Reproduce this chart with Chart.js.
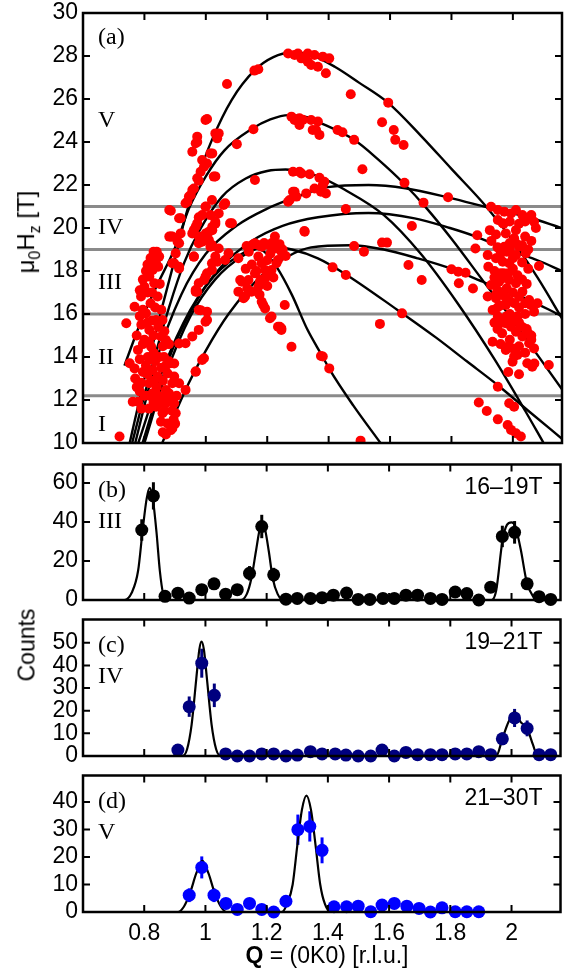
<!DOCTYPE html>
<html>
<head>
<meta charset="utf-8">
<script src="https://cdn.jsdelivr.net/npm/chart.js@4.4.0/dist/chart.umd.min.js"></script>
<style>
  body { margin: 0; background: #fff; width: 567px; height: 971px; position: relative; overflow: hidden;
         font-family: 'Liberation Sans', Arial, sans-serif; }
  .panel { position: absolute; left: 0; }
  .lbl { position: absolute; font-size: 23px; color: #000; white-space: nowrap; }
  .rot { transform: translate(-50%, -50%) rotate(-90deg); }
  .lbl sub { font-size: 16px; }
</style>
</head>
<body>
<div class="panel" style="top:0"><canvas id="chartA" width="567" height="458"></canvas></div>
<div class="panel" style="top:458px"><canvas id="chartB" width="567" height="155"></canvas></div>
<div class="panel" style="top:613px"><canvas id="chartC" width="567" height="156"></canvas></div>
<div class="panel" style="top:769px"><canvas id="chartD" width="567" height="202"></canvas></div>
<div class="lbl rot" style="left:28px; top:232px; font-size:24px">&mu;<sub>0</sub>H<sub>z</sub> [T]</div>
<div class="lbl rot" style="left:27px; top:645px">Counts</div>
<div class="lbl" style="left:327px; top:955px; transform: translate(-50%, -50%)"><b>Q</b> = (0K0) [r.l.u.]</div>
<script>
// axis ticks
const qTicks = [0.8, 1, 1.2, 1.4, 1.6, 1.8, 2];
const fieldTicks = [10, 12, 14, 16, 18, 20, 22, 24, 26, 28, 30];
const countTicksB = [0, 20, 40, 60];
const countTicksC = [0, 10, 20, 30, 40, 50];
const countTicksD = [0, 10, 20, 30, 40];
const phaseBounds = [21, 19, 16, 12.2];

// (a) model curves, [Q, field]
const curveA = [[0.752,10],[0.80,13.0],[0.85,15.9],[0.90,18.6],[0.935,20.6],[0.975,22.4],[1.02,24.1],[1.084,25.95],[1.16,27.35],[1.22,27.95],[1.28,28.15],[1.34,28.05],[1.42,27.5],[1.50,26.75],[1.594,25.82],[1.70,24.3],[1.80,22.75],[1.913,21.0],[2.0,19.4],[2.08,17.7],[2.16,15.8]];
const curveB = [[0.735,13.6],[0.79,15.7],[0.84,17.3],[0.90,19.1],[0.945,20.9],[1.0,22.4],[1.06,23.6],[1.149,24.6],[1.21,25.05],[1.27,25.25],[1.33,25.15],[1.365,24.94],[1.483,24.1],[1.56,23.2],[1.644,22.08],[1.72,20.9],[1.80,19.5],[1.90,17.6],[2.0,15.7],[2.08,14.1],[2.16,12.5]];
const curveC = [[0.76,10],[0.82,13.3],[0.88,16.3],[0.93,18.4],[0.98,19.9],[1.053,21.46],[1.13,22.3],[1.20,22.65],[1.26,22.72],[1.32,22.6],[1.365,22.41],[1.45,21.8],[1.58,20.6],[1.70,18.8],[1.82,16.5],[1.94,13.9],[2.04,11.5],[2.10,10.0]];
const curveD = [[0.77,10],[0.84,13.9],[0.92,16.9],[1.0,18.8],[1.1,20.1],[1.2,20.9],[1.278,21.35],[1.397,21.9],[1.53,22.0],[1.65,21.85],[1.795,21.4],[1.92,20.95],[2.05,20.5],[2.16,20.0]];
const curveE = [[0.78,10],[0.86,13.4],[0.95,16.2],[1.05,18.2],[1.15,19.4],[1.25,20.1],[1.365,20.5],[1.53,20.7],[1.68,20.45],[1.795,20.0],[1.88,19.6],[2.0,18.9],[2.08,18.5],[2.16,18.0]];
const curveF = [[0.858,10],[0.945,12.8],[1.0,14.3],[1.074,16.0],[1.19,17.9],[1.27,18.7],[1.343,19.1],[1.472,19.2],[1.58,19.0],[1.687,18.6],[1.80,18.1],[1.902,17.5],[2.03,16.8],[2.16,15.9]];
const curveG = [[0.794,10],[0.85,12.6],[0.891,14.33],[0.95,16.1],[0.999,17.27],[1.05,18.1],[1.106,18.7],[1.16,19.05],[1.19,18.9],[1.23,18.2],[1.28,16.9],[1.33,15.3],[1.381,14.0],[1.402,13.45],[1.48,11.75],[1.569,10]];
const curveI = [[0.80,10],[0.87,13.2],[0.95,15.9],[1.03,17.6],[1.12,18.7],[1.2,19.15],[1.28,19.0],[1.365,18.59],[1.45,17.9],[1.623,16.2],[1.75,14.9],[1.85,13.8],[1.95,12.7],[2.05,11.5],[2.16,10.2]];

// (a) measured peak positions, [Q, field]
const peaksLow = [[0.719,10.3],[0.741,15.57],[0.768,16.34],[0.752,13.71],[0.768,13.47],[0.779,14.33],[0.762,11.92],[0.779,11.92],[0.789,16.81],[0.8,17.27],[0.816,17.74],[0.827,18.05],[0.838,18.36],[0.848,18.67],[0.805,16.03],[0.816,15.26],[0.822,14.48],[0.811,14.0],[0.827,13.4],[0.816,12.78],[0.827,12.31],[0.843,13.09],[0.848,14.0],[0.854,14.95],[0.838,15.72],[0.859,15.72],[0.87,14.79],[0.843,16.81],[0.832,17.43],[0.848,11.85],[0.838,11.69],[0.87,12.46],[0.875,13.24],[0.875,14.63],[0.864,14.0],
  [0.854,10.99],[0.859,11.38],[0.87,11.85],[0.88,12.31],[0.891,12.78],[0.897,13.09],[0.886,13.71],[0.875,10.91],[0.891,10.68],[0.902,11.38],[0.897,11.85],[0.913,12.78],[0.886,10.6],
  [0.79,15.5],[0.80,14.8],[0.81,13.2],[0.82,16.5],[0.83,15.0],[0.835,13.8],[0.84,12.6],[0.80,12.2],[0.815,11.6],[0.825,17.0],[0.845,15.4],[0.855,13.5],[0.86,12.9],[0.865,11.5],[0.88,13.8],[0.885,12.0],[0.895,11.1],[0.79,12.8],[0.785,13.9],[0.81,17.0],[0.795,16.2],[0.775,15.0],[0.805,18.0],[0.82,18.6],
  [0.785,17.1],[0.795,17.6],[0.81,18.3],[0.83,18.9],[0.845,18.2],[0.835,16.3],[0.825,15.7],[0.815,14.7],[0.805,13.6],[0.795,13.3],[0.785,12.4],[0.775,12.6],[0.83,12.9],[0.845,12.2],[0.855,12.0],[0.86,14.5],[0.865,15.2],[0.855,16.2],[0.85,17.4],[0.84,18.9],[0.82,13.9],[0.83,14.2],[0.81,15.6],[0.795,14.6],[0.785,15.9],[0.77,13.0],[0.83,11.9],[0.815,12.2],[0.79,11.6],[0.87,13.6],[0.88,14.6],[0.865,12.2],[0.875,12.0],[0.89,11.5],[0.905,12.2],[0.86,10.5],[0.87,10.4],[0.9,10.9],
  [0.934,12.47],[0.967,13.32],[0.988,13.86],[0.956,14.95],[0.977,15.26],[0.977,16.19],[1.004,16.11],[1.004,15.72],[0.967,17.04],[0.977,17.43],[0.999,17.74],[1.02,18.05],[1.037,18.43],[0.913,14.63],
  [0.934,14.64],[0.967,13.32],[0.994,13.94],[0.897,13.7],[0.983,16.18],[0.999,15.64],[0.972,17.04],[0.994,17.58],[1.004,17.89]];
const peaksMid = [[0.886,20.8],[0.918,20.45],[0.918,19.75],[0.886,19.6],[1.069,26.7],[1.004,25.07],[0.972,24.25],[0.972,24.0],[0.956,23.55],[1.042,24.4],[1.037,24.17],[1.021,23.47],[0.988,23.16],[1.004,23.0],[1.031,22.4],[0.977,22.2],[0.956,21.77],[0.934,21.15],[0.945,21.46],[1.101,23.9],[1.155,24.59],[1.158,27.32],[1.171,27.38],[1.268,28.12],[1.289,28.05],[1.279,25.18],[1.289,25.02],[1.16,22.23],[1.284,22.62],[1.273,21.3],[1.289,21.69],[1.225,19.6],[1.063,21.15],[1.042,20.68],[1.031,20.2],[1.021,19.9],[1.0,19.75],[1.01,19.44],[1.085,20.22],[1.02,21.3],[1.0,21.0],[0.977,20.5],[0.967,20.06],[0.956,19.75],
  [0.999,25.02],[1.031,24.4],[0.967,23.94],[1.015,23.47],[0.994,22.85],[0.983,22.62],[0.972,22.31],[1.026,22.39],[0.961,21.84],[0.951,21.53],[0.94,21.22],[0.999,20.99],[1.058,21.07],[0.988,20.6],[0.972,20.22],[0.961,19.91],[0.977,19.6],[1.015,20.6],[1.031,20.29],[1.021,20.06],[1.01,19.83],[0.999,19.6],[0.988,19.36],[1.015,19.13],[1.042,19.05],[1.079,20.22],[1.031,18.67],[1.063,18.51],[1.02,18.36],
  [0.881,20.84],[0.913,20.45],[0.908,19.36],[0.902,18.82],[0.897,18.36],[0.913,18.2],[0.961,18.67],[0.967,17.12],[0.881,19.6],
  [0.891,19.6],[0.913,19.29],[0.891,18.36],[0.913,18.12],[0.961,18.67],[0.977,19.29],[0.999,19.44],[1.02,19.21],[1.074,18.82],[1.106,18.59],
  [1.133,19.16],[1.16,19.29],[1.182,19.13],[1.203,19.21],[1.225,19.05],[1.246,18.9],[1.171,18.67],[1.182,18.36],[1.193,18.05],[1.16,17.89],[1.139,17.58],[1.112,17.58],[1.123,16.73],[1.149,17.04],[1.171,17.27],[1.193,17.66],[1.214,18.05],[1.23,18.36],[1.187,16.42],[1.193,16.26],[1.214,15.88],[1.241,15.41],[1.257,16.42],[1.279,14.48],
  [1.117,17.5],[1.106,17.04],[1.128,16.81],[1.176,17.5],[1.198,17.97],[1.235,18.51],[1.182,16.57],[1.209,15.8],[1.235,15.41],[1.246,15.26],[1.381,14.02],[1.321,19.86],[1.171,19.21],
  [1.14,18.9],[1.15,18.3],[1.165,18.0],[1.18,17.6],[1.2,18.5],[1.21,18.8],[1.215,19.3],[1.24,19.25],[1.19,19.3],[1.155,19.25],[1.2,17.3],[1.22,17.7],[1.13,18.1],[1.25,19.0],[1.26,18.7],[1.175,16.9],[1.135,17.2]];
const peaksHigh = [[1.30,28.12],[1.332,28.12],[1.354,28.05],[1.311,27.89],[1.332,27.74],[1.343,27.58],[1.365,27.5],[1.381,27.97],[1.402,27.89],[1.391,27.2],[1.472,26.22],[1.594,25.83],[1.574,24.92],[1.612,24.56],[1.617,24.1],[1.644,23.86],[1.51,22.73],
  [1.305,25.1],[1.316,25.03],[1.343,25.02],[1.365,24.95],[1.305,24.79],[1.348,24.56],[1.37,24.33],[1.359,24.56],[1.429,24.56],[1.445,24.45],[1.483,24.1],[1.647,22.1],[1.709,21.18],[1.789,21.43],[1.671,20.09],
  [1.305,22.62],[1.338,22.5],[1.37,22.34],[1.386,22.15],[1.311,22.54],[1.284,21.69],[1.327,21.61],[1.375,21.69],[1.391,21.61],[1.268,21.22],[1.295,21.46],[1.354,21.84],[1.381,22.0],[1.456,20.88]];
const peaksRight = [[1.322,19.83],[1.483,19.16],[1.515,18.9],[1.574,19.32],[1.59,19.32],[1.413,18.17],[1.456,17.81],[1.66,18.28],[1.703,17.58],[1.246,15.33],[1.375,14.05],[1.402,13.47],[1.567,15.54],[1.639,16.03],[1.504,10.11],
  [1.929,20.99],[1.951,20.84],[1.972,20.76],[1.994,20.68],[2.01,20.84],[2.031,20.6],[2.053,20.45],[2.069,20.29],[1.951,20.37],[1.967,20.22],[1.977,19.75],[2.004,19.52],[2.01,19.29],[1.977,19.13],[1.884,19.66],[1.878,19.05],
  [1.972,19.13],[2.02,19.13],[2.042,18.82],[2.01,18.74],[1.918,18.74],[1.945,18.59],[1.967,18.43],[1.988,18.36],[2.085,18.23],[1.8,18.08],[1.822,17.97],[1.846,17.92],[1.824,17.43],[1.87,17.19],[1.929,17.35],[1.967,17.66],[1.988,17.58],[2.01,17.43],[2.031,17.04],[2.053,16.65],[2.058,16.42],[2.069,16.11],[1.918,16.81],[1.945,16.73],[1.977,16.42],[1.934,16.19],[1.951,15.88],[1.977,15.57],[1.994,15.41],[2.01,15.18],[2.031,14.95],[2.053,14.64],[2.069,14.4],[1.934,14.71],[1.977,14.33],[2.004,14.02],[1.999,13.78],[2.047,13.71],[2.063,13.55],[2.117,13.63],
  [1.951,12.62],[1.889,11.88],[1.915,11.49],[1.951,11.1],[1.983,10.84],[1.988,11.85],[2.004,11.69],[1.994,10.61],[2.01,10.45],[2.026,10.3],
  [1.94,18.0],[1.96,17.9],[1.98,17.2],[2.0,17.0],[1.95,17.1],[2.02,16.3],[2.04,16.0],[1.96,16.4],[1.99,16.0],[2.02,15.6],[2.045,15.3],[1.94,15.6],[1.965,15.1],[1.99,14.8],[2.02,14.5],[2.06,15.0],[1.92,18.2],[1.98,18.9],[2.0,18.6],[2.03,18.4],[2.05,18.1],[1.93,19.4],[1.99,19.0],[2.04,19.6],[2.06,19.4],
  [1.94,17.7],[1.955,17.5],[1.97,17.9],[1.985,17.9],[2.0,18.1],[2.015,17.8],[2.03,17.6],[2.045,17.4],[1.945,16.9],[1.96,16.9],[1.975,16.8],[1.99,16.6],[2.005,16.5],[2.02,16.8],[2.04,16.5],[1.95,16.3],[1.965,15.6],[1.98,15.9],[2.0,15.7],[2.015,15.9],[2.03,15.4],[2.05,15.1],[2.06,14.8],[1.95,15.3],[1.96,14.6],[1.985,14.5],[2.0,14.4],[2.015,14.1],[2.04,14.2],[1.96,18.8],[1.95,19.1],[1.99,19.3],[2.01,19.9],[2.03,19.2],[2.05,19.0],[1.925,19.9],[1.945,19.7],[1.97,20.2],[1.99,20.3],[2.02,20.2],[2.04,20.3],[2.06,20.6],[2.075,20.0],[1.985,13.3],[2.02,13.2],[2.07,13.7],[2.08,16.5]];

// (b) 16-19T scan
const qB = [0.792,0.83,0.868,0.91,0.947,0.988,1.028,1.066,1.104,1.144,1.184,1.223,1.263,1.30,1.343,1.381,1.418,1.461,1.499,1.537,1.58,1.617,1.655,1.693,1.735,1.773,1.816,1.854,1.893,1.932,1.97,2.01,2.051,2.09,2.128];
const countsB = [35.9,53.4,1.9,3.5,1.0,5.3,8.3,3.0,5.3,13.7,37.7,12.9,0.4,0.8,0.8,1.2,2.5,3.6,0.3,0.3,0.8,0.8,2.5,2.5,0.8,0.3,4.1,3.3,0,6.6,32.6,34.7,8.3,1.7,0.3];
const errB = [5.5,7,1.5,2,1,2.3,3,1.7,2.3,3.7,6,3.6,0.6,0.9,0.9,1.1,1.6,1.9,0.5,0.5,0.9,0.9,1.6,1.6,0.9,0.5,2,1.8,0,2.6,5.5,5.8,3,1.3,0.5];
const fitB = [[0.6,0],[0.735,0],[0.76,4],[0.78,15],[0.795,36],[0.808,52],[0.818,57.5],[0.828,52],[0.84,35],[0.851,15],[0.862,3],[0.872,0],[1.115,0],[1.135,3],[1.15,11],[1.165,25],[1.177,36],[1.186,39.5],[1.195,36],[1.207,25],[1.22,11],[1.236,3],[1.255,0],[1.935,0],[1.95,5],[1.97,30],[1.985,38.5],[2.0,39.8],[2.012,38],[2.03,26],[2.05,9],[2.07,2],[2.085,0],[2.16,0]];

// (c) 19-21T scan
const qC = [0.91,0.947,0.988,1.029,1.066,1.104,1.144,1.184,1.223,1.263,1.30,1.343,1.381,1.424,1.459,1.499,1.54,1.577,1.617,1.655,1.693,1.735,1.773,1.816,1.854,1.893,1.932,1.97,2.01,2.051,2.09,2.128];
const countsC = [2.6,21.8,41.0,26.8,0.9,0,0,0.9,0.9,0,0.4,1.9,0.9,0.9,0.4,0,0,2.6,0,1.6,0.6,0.6,0.6,0.9,0.9,1.9,0.6,7.6,16.8,12.2,0.6,0.6];
const errC = [1.6,4.5,6.4,5.2,1,0,0,1,1,0,0.6,1.4,1,1,0.6,0,0,1.6,0,1.3,0.8,0.8,0.8,1,1,1.4,0.8,2.8,4,3.5,0.8,0.8];
const fitC = [[0.6,0],[0.925,0],[0.94,3],[0.955,14],[0.97,34],[0.98,47],[0.987,50.5],[0.995,47],[1.005,34],[1.02,14],[1.035,3],[1.05,0],[1.95,0],[1.97,7.6],[1.99,15],[2.01,19.5],[2.03,15],[2.051,12.2],[2.07,5],[2.085,0],[2.16,0]];

// (d) 21-30T scan
const qD = [0.947,0.988,1.028,1.067,1.104,1.144,1.184,1.223,1.263,1.302,1.341,1.381,1.42,1.461,1.499,1.54,1.577,1.617,1.658,1.698,1.735,1.773,1.816,1.854,1.893];
const countsD = [6.1,16.2,6.1,3.1,0.95,3.1,0.95,0,3.9,29.9,31.1,22.4,1.9,1.9,2.1,0.1,2.5,3.1,2.1,1.3,0,1.5,0.1,0.1,0.1];
const errD = [2.5,4,2.5,1.8,1,1.8,1,0.3,2,5.5,5.5,4.7,1.4,1.4,1.4,0.3,1.6,1.8,1.4,1.1,0.3,1.2,0.3,0.3,0.3];
const fitD = [[0.6,0],[0.91,0],[0.93,2],[0.95,7],[0.97,14],[0.99,18.6],[1.01,14],[1.03,7],[1.05,2],[1.07,0],[1.25,0],[1.268,3.3],[1.285,10],[1.30,24],[1.315,37],[1.33,42.3],[1.345,37],[1.36,24],[1.375,10],[1.39,3],[1.41,0],[2.16,0]];

const SANS = "'Liberation Sans', Arial, Helvetica, sans-serif";
const SERIF = "24px 'Liberation Serif', 'Times New Roman', serif";
Chart.defaults.font.family = SANS;
Chart.defaults.font.size = 23;
Chart.defaults.color = '#000';

const toXY = arr => arr.map(([x, y]) => ({ x, y }));
const zipXY = (xs, ys) => xs.map((x, i) => ({ x, y: ys[i] }));

// frame, inward ticks, guide lines, error bars and panel texts
const framePlugin = {
    id: 'frame',
    beforeDatasetsDraw(chart, args, opts) {
        const { ctx, chartArea: area, scales: { x, y } } = chart;
        ctx.save();
        ctx.strokeStyle = '#8a8a8a';
        ctx.lineWidth = 3;
        (opts.guides || []).forEach(v => {
            const py = y.getPixelForValue(v);
            ctx.beginPath();
            ctx.moveTo(area.left, py);
            ctx.lineTo(area.right, py);
            ctx.stroke();
        });
        if (opts.errors) {
            const { q, v, e, color } = opts.errors;
            ctx.strokeStyle = color;
            ctx.lineWidth = 3;
            q.forEach((qq, i) => {
                if (!e[i]) return;
                const px = x.getPixelForValue(qq);
                ctx.beginPath();
                ctx.moveTo(px, y.getPixelForValue(v[i] - e[i]));
                ctx.lineTo(px, y.getPixelForValue(v[i] + e[i]));
                ctx.stroke();
            });
        }
        ctx.restore();
    },
    afterDraw(chart, args, opts) {
        const { ctx, chartArea: area, scales: { x, y } } = chart;
        const tl = 7;
        ctx.save();
        ctx.strokeStyle = '#000';
        ctx.lineWidth = 2;
        ctx.beginPath();
        qTicks.forEach(v => {
            const px = x.getPixelForValue(v);
            ctx.moveTo(px, area.top);
            ctx.lineTo(px, area.top + tl);
            ctx.moveTo(px, area.bottom);
            ctx.lineTo(px, area.bottom - tl);
        });
        opts.yTicks.forEach(v => {
            const py = y.getPixelForValue(v);
            if (Math.abs(py - area.top) < 2 || Math.abs(py - area.bottom) < 2) return;
            ctx.moveTo(area.left, py);
            ctx.lineTo(area.left + tl, py);
            ctx.moveTo(area.right, py);
            ctx.lineTo(area.right - tl, py);
        });
        ctx.stroke();
        ctx.lineWidth = 2.5;
        ctx.strokeRect(area.left, area.top, area.right - area.left, area.bottom - area.top);

        ctx.fillStyle = '#000';
        ctx.textBaseline = 'middle';
        (opts.notes || []).forEach(n => {
            ctx.font = n.font;
            ctx.textAlign = n.right !== undefined ? 'right' : 'left';
            const px = n.right !== undefined ? area.right - n.right : area.left + n.dx;
            const py = n.v !== undefined ? y.getPixelForValue(n.v) : area.top + n.dy;
            ctx.fillText(n.text, px, py);
        });
        ctx.restore();
    }
};

// no extra room for edge tick labels: the plot areas are placed by hand
const noPad = s => { s.paddingTop = 0; s.paddingBottom = 0; s.paddingLeft = 0; s.paddingRight = 0; };

function panelOptions(yMin, yMax, yTicks, padTop, padBottom, showX, frame) {
    return {
        responsive: false,
        animation: false,
        events: [],
        layout: { padding: { top: padTop, bottom: padBottom, left: 0, right: 1 } },
        plugins: { legend: { display: false }, tooltip: { enabled: false }, frame: Object.assign({ yTicks }, frame) },
        scales: {
            x: {
                type: 'linear', min: 0.6, max: 2.16, display: showX,
                grid: { display: false, drawTicks: false }, border: { display: false },
                afterBuildTicks: s => { s.ticks = qTicks.map(v => ({ value: v })); },
                afterFit: s => { noPad(s); if (showX) s.height = 59; },
                ticks: { autoSkip: false, maxRotation: 0, padding: 8, callback: v => String(Math.round(v * 10) / 10) }
            },
            y: {
                type: 'linear', min: yMin, max: yMax,
                grid: { display: false, drawTicks: false }, border: { display: false },
                afterBuildTicks: s => { s.ticks = yTicks.map(v => ({ value: v })); },
                afterFit: s => { noPad(s); s.width = 83; },
                ticks: { autoSkip: false, padding: 5, callback: v => String(v) }
            }
        }
    };
}

const curveSet = [curveA, curveB, curveC, curveD, curveE, curveF, curveG, curveI].map(c => ({
    data: toXY(c), showLine: true, pointRadius: 0, borderColor: '#000', borderWidth: 2.4,
    cubicInterpolationMode: 'monotone', fill: false
}));

new Chart(document.getElementById('chartA'), {
    type: 'scatter',
    data: {
        datasets: [
            { data: toXY(peaksLow.concat(peaksMid, peaksHigh, peaksRight)), pointRadius: 5, pointBackgroundColor: '#ff0000', pointBorderWidth: 0 },
            ...curveSet
        ]
    },
    options: panelOptions(10, 30, fieldTicks, 13, 15, false, {
        guides: phaseBounds,
        notes: [
            { text: '(a)', font: SERIF, dx: 15, dy: 25 },
            { text: 'V', font: SERIF, dx: 15, v: 24.98 },
            { text: 'IV', font: SERIF, dx: 15, v: 20.0 },
            { text: 'III', font: SERIF, dx: 15, v: 17.45 },
            { text: 'II', font: SERIF, dx: 15, v: 13.95 },
            { text: 'I', font: SERIF, dx: 15, v: 10.85 }
        ]
    }),
    plugins: [framePlugin]
});

function scanChart(id, q, counts, err, fit, color, yMax, yTicks, padTop, padBottom, showX, tag, phase, range) {
    return new Chart(document.getElementById(id), {
        type: 'scatter',
        data: {
            datasets: [
                { data: zipXY(q, counts), pointRadius: 6.5, pointBackgroundColor: color, pointBorderWidth: 0, clip: false },
                { data: toXY(fit), showLine: true, pointRadius: 0, borderColor: '#000', borderWidth: 2.2, cubicInterpolationMode: 'monotone' }
            ]
        },
        options: panelOptions(0, yMax, yTicks, padTop, padBottom, showX, {
            errors: { q, v: counts, e: err, color },
            notes: [
                { text: tag, font: SERIF, dx: 15, dy: 26 },
                { text: phase, font: SERIF, dx: 15, dy: 57 },
                { text: range, font: '23px ' + SANS, right: 18, dy: 23 }
            ]
        }),
        plugins: [framePlugin]
    });
}

scanChart('chartB', qB, countsB, errB, fitB, '#000000', 69.5, countTicksB, 2, 13, false, '(b)', 'III', '16\u201319T');
scanChart('chartC', qC, countsC, errC, fitC, '#00007f', 60.3, countTicksC, 2, 13, false, '(c)', 'IV', '19\u201321T');
scanChart('chartD', qD, countsD, errD, fitD, '#0000ff', 49.6, countTicksD, 4, 0, true, '(d)', 'V', '21\u201330T');
</script>
</body>
</html>
